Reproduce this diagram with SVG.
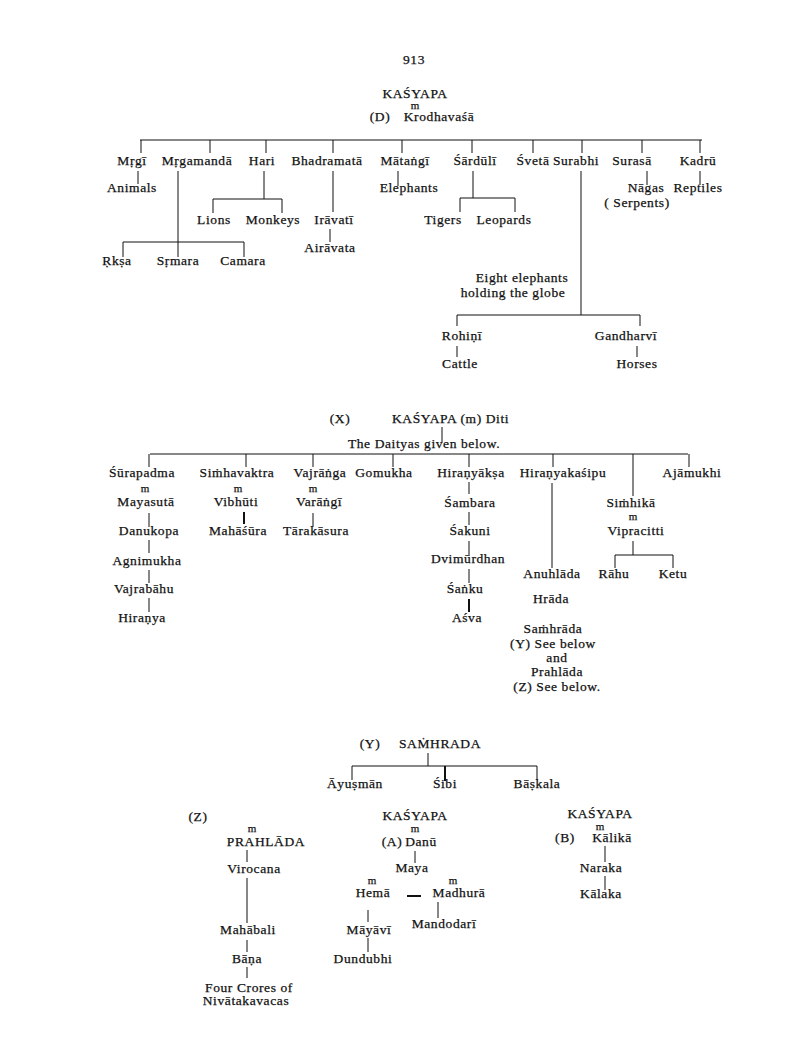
<svg xmlns="http://www.w3.org/2000/svg" width="806" height="1055" viewBox="0 0 806 1055">
<style>
text{font-family:"Liberation Serif","DejaVu Serif",serif;font-size:13.5px;letter-spacing:0.6px;fill:#111;stroke:#111;stroke-width:0.25px;text-anchor:middle}
text.m{font-size:11px;letter-spacing:0}
text.st{text-anchor:start}
#connectors path{stroke:#111;stroke-width:1;fill:none}
#connectors path.k{stroke-width:2}
</style>
<rect width="806" height="1055" fill="#fff"/>
<g id="connectors">
<path d="M140 140H702M141 140V153M210 140V153M266 140V153M333 140V153M402 140V153M472 140V153M533 140V153M582 140V153M642 140V153M700 140V153"/>
<path d="M138 171V184M178 171V242M123 242H244M123 242V257M178 242V257M244 242V257"/>
<path d="M264 171V199M213 199H282M213 199V213M282 199V213"/>
<path d="M333 171V212M330 229V242M398 171V186"/>
<path d="M473 171V198M460 198H515M460 198V212M515 198V212"/>
<path d="M581 171V315M457 315H640M457 315V326M640 315V326M457 346V357M637 346V357"/>
<path d="M647 171V185M700 171V185"/>
<path d="M442 427V442M150 454H688M149 454V467M246 454V467M313 454V467M393 454V467M469 454V467M553 454V467M689 454V467M633 454V496"/>
<path d="M149 513V527M149 540V553M149 570V583M149 598V612"/>
<path class="k" d="M244 512V524"/>
<path d="M313 513V527"/>
<path d="M469 482V494M469 512V525M469 541V555M469 569V583"/>
<path class="k" d="M469 599V612"/>
<path d="M552 483V568M633 541V555M615 555H673M615 555V568M673 555V568"/>
<path d="M428 753V766M352 766H537M352 766V780M537 766V780"/>
<path class="k" d="M445 766V781"/>
<path d="M247 850V862M247 878V923M247 940V952M247 967V978"/>
<path d="M415 851V863M368 910V922M368 938V952M438 902V918"/>
<path class="k" d="M407 896H421"/>
<path d="M605 846V862M605 876V890"/>
</g>
<g id="page"><text x="414" y="64">913</text></g>
<g id="kasyapa-d"><text x="415" y="98">KAŚYAPA</text><text class="m" x="415" y="109">m</text><text x="380" y="121">(D)</text><text x="439" y="121">Krodhavaśā</text></g>
<g id="mrgi"><text x="132" y="165">Mṛgī</text></g>
<g id="mrgamanda"><text x="197" y="165">Mṛgamandā</text></g>
<g id="hari"><text x="262" y="165">Hari</text></g>
<g id="bhadramata"><text x="327" y="165">Bhadramatā</text></g>
<g id="matangi"><text x="405" y="165">Mātaṅgī</text></g>
<g id="sarduli"><text x="475" y="165">Śārdūlī</text></g>
<g id="sveta"><text x="533" y="165">Śvetā</text></g>
<g id="surabhi"><text x="576" y="165">Surabhi</text></g>
<g id="surasa"><text x="632" y="165">Surasā</text></g>
<g id="kadru"><text x="698" y="165">Kadrū</text></g>
<g id="animals"><text x="132" y="192">Animals</text></g>
<g id="elephants"><text x="409" y="192">Elephants</text></g>
<g id="nagas"><text x="646" y="192">Nāgas</text><text x="637" y="207">( Serpents)</text></g>
<g id="reptiles"><text x="698" y="192">Reptiles</text></g>
<g id="lions"><text x="214" y="224">Lions</text></g>
<g id="monkeys"><text x="273" y="224">Monkeys</text></g>
<g id="iravati"><text x="334" y="224">Irāvatī</text></g>
<g id="tigers"><text x="443" y="224">Tigers</text></g>
<g id="leopards"><text x="504" y="224">Leopards</text></g>
<g id="airavata"><text x="330" y="252">Airāvata</text></g>
<g id="rksa"><text x="117" y="265">Ṛkṣa</text></g>
<g id="srmara"><text x="178" y="265">Sṛmara</text></g>
<g id="camara"><text x="243" y="265">Camara</text></g>
<g id="eight-elephants"><text x="522" y="282">Eight elephants</text><text x="513" y="297">holding the globe</text></g>
<g id="rohini"><text x="462" y="340">Rohiṇī</text></g>
<g id="gandharvi"><text x="626" y="340">Gandharvī</text></g>
<g id="cattle"><text x="460" y="368">Cattle</text></g>
<g id="horses"><text x="637" y="368">Horses</text></g>
<g id="kasyapa-x"><text x="340" y="423">(X)</text><text class="st" x="392" y="423">KAŚYAPA (m) Diti</text></g>
<g id="daityas"><text x="424" y="448">The Daityas given below.</text></g>
<g id="surapadma"><text x="142" y="477">Śūrapadma</text><text class="m" x="145" y="492">m</text><text x="146" y="506">Mayasutā</text></g>
<g id="simhavaktra"><text x="237" y="477">Siṁhavaktra</text><text class="m" x="238" y="492">m</text><text x="236" y="506">Vibhūti</text></g>
<g id="vajranga"><text x="320" y="477">Vajrāṅga</text><text class="m" x="313" y="492">m</text><text x="319" y="506">Varāṅgī</text></g>
<g id="gomukha"><text x="384" y="477">Gomukha</text></g>
<g id="hiranyaksa"><text x="471" y="477">Hiraṇyākṣa</text></g>
<g id="hiranyakasipu"><text x="563" y="477">Hiraṇyakaśipu</text></g>
<g id="ajamukhi"><text x="692" y="477">Ajāmukhi</text></g>
<g id="simhika"><text x="631" y="507">Siṁhikā</text><text class="m" x="633" y="520">m</text><text x="636" y="535">Vipracitti</text></g>
<g id="sambara"><text x="470" y="507">Śambara</text></g>
<g id="danukopa"><text x="149" y="535">Danukopa</text></g>
<g id="mahasura"><text x="238" y="535">Mahāśūra</text></g>
<g id="tarakasura"><text x="316" y="535">Tārakāsura</text></g>
<g id="sakuni"><text x="470" y="535">Śakuni</text></g>
<g id="dvimurdhan"><text x="468" y="563">Dvimūrdhan</text></g>
<g id="agnimukha"><text x="147" y="565">Agnimukha</text></g>
<g id="anuhlada"><text x="552" y="578">Anuhlāda</text></g>
<g id="rahu"><text x="614" y="578">Rāhu</text></g>
<g id="ketu"><text x="673" y="578">Ketu</text></g>
<g id="vajrabahu"><text x="144" y="593">Vajrabāhu</text></g>
<g id="sanku"><text x="465" y="593">Śaṅku</text></g>
<g id="hrada"><text x="551" y="603">Hrāda</text></g>
<g id="hiranya"><text x="142" y="622">Hiraṇya</text></g>
<g id="asva"><text x="467" y="622">Aśva</text></g>
<g id="samhrada-note"><text x="553" y="633">Saṁhrāda</text><text x="553" y="648">(Y) See below</text><text x="557" y="662">and</text><text x="557" y="676">Prahlāda</text><text x="557" y="691">(Z) See below.</text></g>
<g id="samhrada-y"><text x="370" y="748">(Y)</text><text x="440" y="748">SAṀHRADA</text></g>
<g id="ayusman"><text x="355" y="788">Āyuṣmān</text></g>
<g id="sibi"><text x="445" y="788">Śibi</text></g>
<g id="baskala"><text x="537" y="788">Bāṣkala</text></g>
<g id="prahlada-z"><text x="198" y="821">(Z)</text><text class="m" x="252" y="832">m</text><text x="266" y="846">PRAHLĀDA</text></g>
<g id="kasyapa-a"><text x="415" y="820">KAŚYAPA</text><text class="m" x="415" y="832">m</text><text x="392" y="846">(A)</text><text x="421" y="846">Danū</text></g>
<g id="kasyapa-b"><text x="600" y="818">KAŚYAPA</text><text class="m" x="600" y="830">m</text><text x="565" y="842">(B)</text><text x="612" y="842">Kālikā</text></g>
<g id="virocana"><text x="254" y="873">Virocana</text></g>
<g id="maya"><text x="412" y="872">Maya</text></g>
<g id="naraka"><text x="601" y="872">Naraka</text></g>
<g id="hema"><text class="m" x="372" y="884">m</text><text x="373" y="897">Hemā</text></g>
<g id="madhura"><text class="m" x="453" y="884">m</text><text x="459" y="897">Madhurā</text></g>
<g id="kalaka"><text x="601" y="898">Kālaka</text></g>
<g id="mandodari"><text x="444" y="928">Mandodarī</text></g>
<g id="mahabali"><text x="248" y="934">Mahābali</text></g>
<g id="mayavi"><text x="369" y="934">Māyāvī</text></g>
<g id="bana"><text x="247" y="963">Bāṇa</text></g>
<g id="dundubhi"><text x="363" y="963">Dundubhi</text></g>
<g id="nivatakavacas"><text x="249" y="992">Four Crores of</text><text x="246" y="1005">Nivātakavacas</text></g>
</svg>
